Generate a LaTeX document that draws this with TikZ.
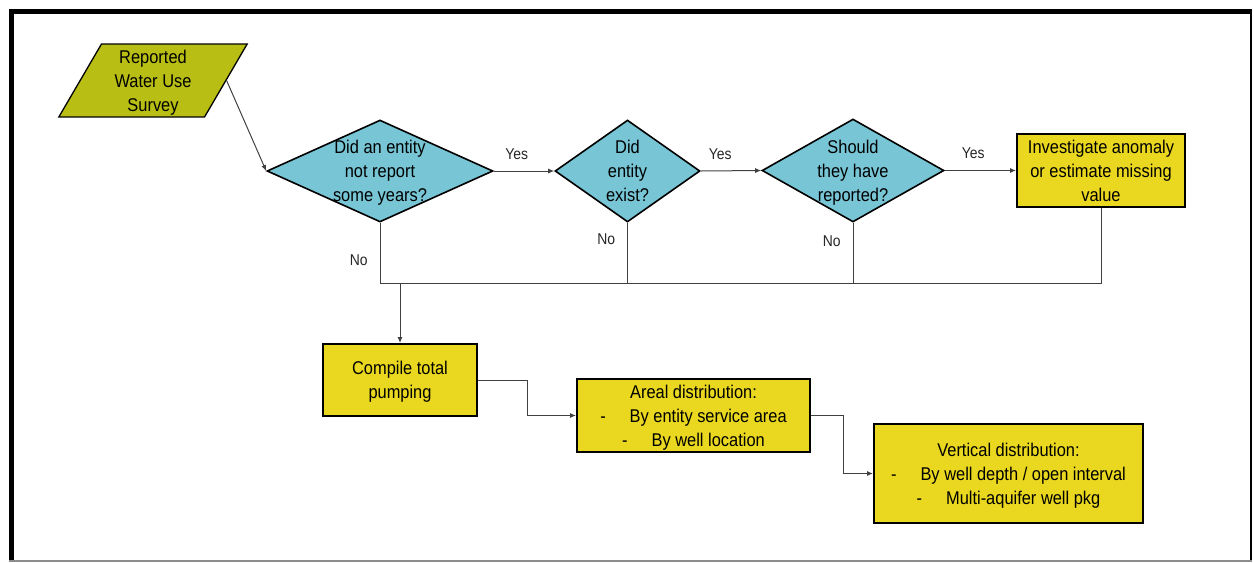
\documentclass[tikz,border=0pt]{standalone}
\usepackage{fontspec}
\setmainfont{Liberation Sans}[FakeStretch=0.89]
\usetikzlibrary{shapes.geometric,arrows.meta}
\definecolor{surveyolive}{RGB}{184,190,20}
\definecolor{decisioncyan}{RGB}{120,197,213}
\definecolor{processyellow}{RGB}{234,216,32}
\tikzset{
  flowfont/.style={font=\fontsize{10.5}{13.6}\selectfont,text depth=-0.4pt},
  tagfont/.style={font=\fontsize{8.9}{10}\selectfont,text=black!85},
  datain/.style={trapezium,trapezium stretches=true,
    trapezium left angle=62.5,trapezium right angle=117.5,
    draw,line width=0.026cm,fill=surveyolive,inner sep=0pt,
    flowfont,align=center},
  decision/.style={diamond,draw,line width=0.032cm,fill=decisioncyan,inner sep=0pt},
  qtext/.style={flowfont,align=center,inner sep=0pt},
  process/.style={rectangle,draw,line width=0.04cm,fill=processyellow,
    inner sep=2pt,flowfont,align=center},
  link/.style={draw=black!75,line width=0.02cm},
}
\begin{document}
\begin{tikzpicture}[x=0.02cm,y=-0.02cm,>={Latex[length=0.12cm,width=0.1cm]}]
  \useasboundingbox (0,0) rectangle (1254,562);
  % frame
  \draw[line width=0.1cm] (9,11.5) -- (1252,11.5);
  \draw[line width=0.1cm] (11.5,9) -- (11.5,562);
  \draw[line width=0.04cm] (1251,9) -- (1251,562);
  \draw[black!45,line width=0.03cm] (9,561) -- (1252,561);

  % input and decisions
  \node[datain,minimum width=3.8cm,minimum height=1.46cm] (survey) at (153,80.5)
    {Reported\\Water Use\\Survey};
  \node[decision,minimum width=4.52cm,minimum height=2.04cm] (q1) at (380,171) {};
  \node[qtext] (q1txt) at (q1) {Did an entity\\not report\\some years?};
  \node[decision,minimum width=2.9cm,minimum height=2.04cm] (q2) at (627.5,171) {};
  \node[qtext] (q2txt) at (q2) {Did\\entity\\exist?};
  \node[decision,minimum width=3.64cm,minimum height=2.06cm] (q3) at (853,170.5) {};
  \node[qtext] (q3txt) at (q3) {Should\\they have\\reported?};
  \node[process,minimum width=3.36cm,minimum height=1.46cm] (fix) at (1101,170.5)
    {Investigate anomaly\\or estimate missing\\value};

  % processing steps
  \node[process,minimum width=3.08cm,minimum height=1.44cm] (total) at (400,380)
    {Compile total\\pumping};
  \node[process,minimum width=4.66cm,minimum height=1.46cm] (areal) at (693.5,415.5)
    {Areal distribution:\\-\hspace{1.3em}By entity service area\\-\hspace{1.3em}By well location};
  \node[process,minimum width=5.38cm,minimum height=1.98cm] (vert) at (1008.5,473.5)
    {Vertical distribution:\\-\hspace{1.3em}By well depth / open interval\\-\hspace{1.3em}Multi-aquifer well pkg};
  \coordinate (bus) at (total.north |- 0,283);

  % connectors
  \draw[link,->] (survey.east) -- (q1.west);
  \draw[link,->] (q1.east) -- node[pos=.38,above=0.1cm,tagfont] {Yes} (q2.west);
  \draw[link,->] (q2.east) -- node[pos=.32,above=0.1cm,tagfont] {Yes} (q3.west);
  \draw[link,->] (q3.east) -- node[pos=.4,above=0.1cm,tagfont] {Yes} (fix.west);
  \draw[link] (q1.south) -- node[pos=.62,left=0.12cm,tagfont] {No} (q1.south |- bus)
    -- (fix.south |- bus) -- (fix.south);
  \draw[link] (q2.south) -- node[pos=.28,left=0.12cm,tagfont] {No} (q2.south |- bus);
  \draw[link] (q3.south) -- node[pos=.3,left=0.12cm,tagfont] {No} (q3.south |- bus);
  \draw[link,->] (bus) -- (total.north);
  \draw[link,->] (total.east) -- ++(50,0) |- (areal.west);
  \draw[link,->] (areal.east) -- ++(33,0) |- (vert.west);
\end{tikzpicture}
\end{document}
